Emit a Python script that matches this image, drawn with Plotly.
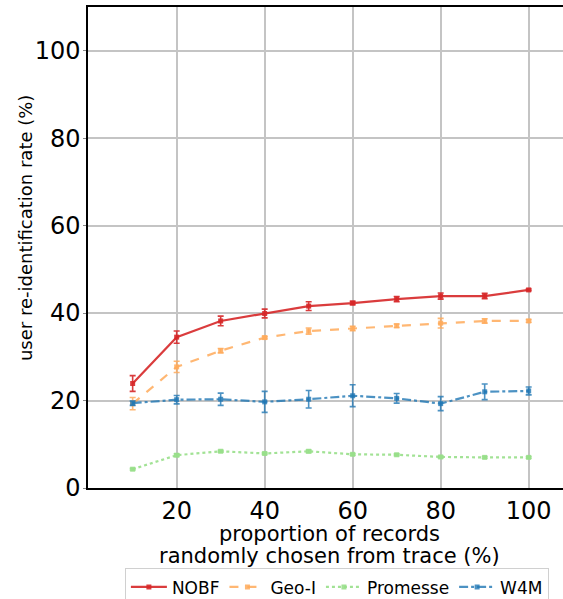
import plotly.graph_objects as go

x_vals = [10, 20, 30, 40, 50, 60, 70, 80, 90, 100]

nobf = [23.9, 34.5, 38.2, 39.9, 41.6, 42.3, 43.2, 43.9, 43.9, 45.3]
nobf_err = [1.8, 1.4, 1.1, 1.0, 1.0, 0.4, 0.6, 0.7, 0.6, 0.2]

geoi = [19.3, 27.7, 31.4, 34.4, 35.9, 36.5, 37.1, 37.7, 38.2, 38.2]
geoi_err = [1.4, 1.3, 0.5, 0.3, 0.7, 0.5, 0.4, 1.1, 0.5, 0.3]

promesse = [4.3, 7.5, 8.4, 7.9, 8.4, 7.7, 7.6, 7.1, 7.0, 7.0]
promesse_err = [0.2, 0.3, 0.2, 0.2, 0.3, 0.2, 0.2, 0.2, 0.2, 0.2]

w4m = [19.4, 20.2, 20.3, 19.7, 20.3, 21.1, 20.5, 19.3, 22.0, 22.2]
w4m_err = [0.5, 0.95, 1.4, 2.4, 2.0, 2.5, 1.1, 1.6, 1.8, 0.9]

x_title_lines = ["proportion of records", "randomly chosen from trace (%)"]
y_title = "user re-identification rate (%)"

series = [
    ("NOBF", nobf, nobf_err, "rgba(214,39,40,0.9)", "solid"),
    ("Geo-I", geoi, geoi_err, "rgba(255,170,90,0.85)", "dash"),
    ("Promesse", promesse, promesse_err, "rgba(152,223,138,0.9)", "dot"),
    ("W4M", w4m, w4m_err, "rgba(31,119,180,0.8)", "dashdot"),
]

fig = go.Figure()
for name, ys, errs, color, dash in series:
    fig.add_trace(go.Scatter(
        x=x_vals, y=ys, name=name, mode="lines+markers",
        line=dict(color=color, width=2.2, dash=dash),
        marker=dict(color=color, size=5, symbol="square"),
        error_y=dict(type="data", array=errs, visible=True, color=color,
                     thickness=1.6, width=3),
    ))

font_family = "DejaVu Sans"
fig.update_layout(
    width=563, height=599,
    margin=dict(l=88, r=0, t=7, b=111, autoexpand=False),
    plot_bgcolor="white", paper_bgcolor="white",
    font=dict(family=font_family, color="black"),
    showlegend=True,
    legend=dict(
        orientation="h", x=0.524, xanchor="center", y=-0.167, yanchor="top",
        bordercolor="#d0d0d0", borderwidth=1, font=dict(size=17, color="black"),
        itemwidth=36, tracegroupgap=0,
    ),
)
for shift, line in zip([-45.5, -68], x_title_lines):
    fig.add_annotation(
        text=line, xref="paper", yref="paper", x=0.509, y=0,
        xanchor="center", yanchor="middle", yshift=shift, showarrow=False,
        font=dict(size=21, family=font_family, color="black"),
    )
fig.add_annotation(
    text=y_title, xref="paper", yref="paper", x=-0.1326, y=0.5405,
    xanchor="center", yanchor="middle", textangle=-90, showarrow=False,
    font=dict(size=18, family=font_family, color="black"),
)
fig.update_xaxes(
    range=[-0.15, 107.8], tickvals=[20, 40, 60, 80, 100],
    showgrid=True, gridcolor="#c4c4c4", gridwidth=1.5,
    showline=True, linecolor="black", linewidth=1.5, mirror=True,
    ticks="inside", ticklen=4, tickcolor="#c4c4c4",
    tickfont=dict(size=24, family=font_family),
    zeroline=False, automargin=False,
)
fig.update_yaxes(
    range=[0, 110], tickvals=[0, 20, 40, 60, 80, 100],
    showgrid=True, gridcolor="#c4c4c4", gridwidth=1.5,
    showline=True, linecolor="black", linewidth=1.5, mirror=False,
    ticks="outside", ticklen=3, tickcolor="#888",
    tickfont=dict(size=24, family=font_family), ticklabelstandoff=-2,
    zeroline=False, automargin=False,
)

fig.write_html("out.html", config={"displayModeBar": False},
               post_script="document.body.style.margin='0';")
